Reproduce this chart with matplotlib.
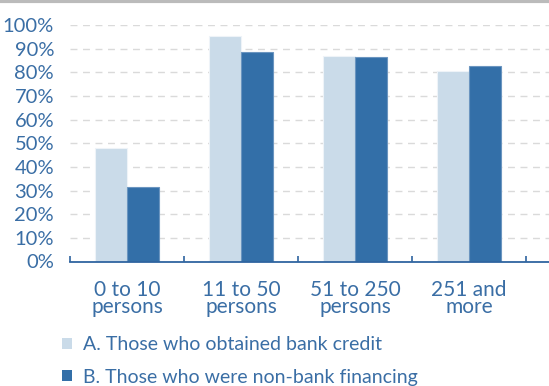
import matplotlib.pyplot as plt
from matplotlib.lines import Line2D
from matplotlib.patches import Patch
import numpy as np

categorias = ["0 to 10\npersons", "11 to 50\npersons", "51 to 250\npersons", "251 and\nmore"]
credito_bancario = [48.1, 95.5, 86.9, 80.7]
nao_bancario = [31.5, 88.6, 86.3, 82.8]
rotulos_legenda = ["A. Those who obtained bank credit", "B. Those who were non-bank financing"]

cor_clara = "#CADBE9"
cor_escura = "#336FA8"
cor_texto = "#3A6EA5"

plt.rcParams["font.family"] = ["Lato", "DejaVu Sans"]

fig = plt.figure(figsize=(5.49, 3.86), dpi=100)
ax = fig.add_axes([70 / 549, 1 - 261.5 / 386, 1 - 70 / 549, (261.5 - 25) / 386])

x = np.arange(len(categorias))
largura = 0.28
ax.bar(x - largura / 2, credito_bancario, largura, color=cor_clara, edgecolor="#EEF3F8", linewidth=0.8, zorder=3)
ax.bar(x + largura / 2, nao_bancario, largura, color=cor_escura, edgecolor="#6B95C0", linewidth=0.8, zorder=3)

ax.set_ylim(0, 100)
ax.set_xlim(-0.5, 3.70)
ax.set_yticks(range(0, 101, 10))
ax.set_yticklabels([f"{v}%" for v in range(0, 101, 10)])
ax.set_xticks(x)
ax.set_xticklabels(categorias, linespacing=0.85)
ax.set_xticks(np.arange(-0.5, 4, 1), minor=True)
ax.tick_params(axis="x", which="major", length=0, pad=13, labelsize=15, labelcolor=cor_texto)
ax.tick_params(axis="x", which="minor", length=4, width=1.2, direction="in", color="#2F64A0")
ax.tick_params(axis="y", length=0, pad=11.5, labelsize=14.5, labelcolor=cor_texto)

ax.grid(axis="y", color="#DADADA", linestyle=(0, (5, 4)), linewidth=1, zorder=0)
for lado in ["top", "right", "left"]:
    ax.spines[lado].set_visible(False)
ax.spines["bottom"].set_color("#2F64A0")
ax.spines["bottom"].set_linewidth(1.3)
ax.spines["bottom"].set_zorder(4)

# linha cinza no topo
fig.add_artist(Line2D([0, 1], [0.997, 0.997], transform=fig.transFigure, color="#BBBBBB", linewidth=3))

alcas = [Patch(facecolor=cor_clara), Patch(facecolor=cor_escura)]
leg = fig.legend(alcas, rotulos_legenda, loc="upper left", bbox_to_anchor=(62 / 549, 1 - 336 / 386),
                 frameon=False, fontsize=14, handlelength=0.5, handleheight=0.5, handletextpad=0.6,
                 labelspacing=0.8, borderaxespad=0, borderpad=0)
for t in leg.get_texts():
    t.set_color(cor_texto)

fig.savefig("out.png", dpi=100)
